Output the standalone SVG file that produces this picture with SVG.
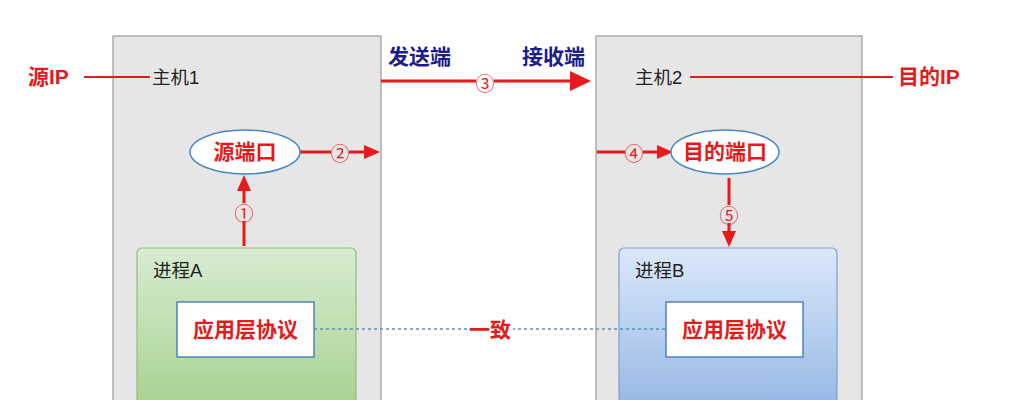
<svg xmlns="http://www.w3.org/2000/svg" width="1013" height="400" viewBox="0 0 1013 400">
<defs>
<style>
.host{fill:#e6e6e6;stroke:#999;stroke-width:1.2}
.lbl{font-family:"Liberation Sans","Noto Sans CJK SC",sans-serif;font-size:18.5px;fill:#222}
.red{font-family:"Liberation Sans","Noto Sans CJK SC",sans-serif;font-size:21px;font-weight:bold;fill:#e8191a}
.navy{font-family:"Liberation Sans","Noto Sans CJK SC",sans-serif;font-size:21px;font-weight:bold;fill:#1c1c8a}
.num{font-family:"Noto Sans CJK SC",sans-serif;font-size:19px;fill:#e8191a;text-anchor:middle;dominant-baseline:central}
.ln{stroke:#e8191a;stroke-width:3;fill:none}
.thin{stroke:#e8191a;stroke-width:2;fill:none}
.proto{fill:#fff;stroke:#3b73b9;stroke-width:1.3}
.ell{fill:#fff;stroke:#4a86c5;stroke-width:1.5}
</style>
<linearGradient id="gA" x1="0" y1="0" x2="0" y2="1"><stop offset="0" stop-color="#d8ecd2"/><stop offset="1" stop-color="#a4d08c"/></linearGradient>
<linearGradient id="gB" x1="0" y1="0" x2="0" y2="1"><stop offset="0" stop-color="#dbe8fb"/><stop offset="1" stop-color="#92b5e3"/></linearGradient>
</defs>
<rect width="1013" height="400" fill="#fff"/>

<g id="host1">
<rect class="host" x="113" y="36" width="268" height="380"/>
<text class="lbl" x="152" y="84">主机1</text>
</g>
<g id="host2">
<rect class="host" x="596" y="36" width="266" height="380"/>
<text class="lbl" x="635" y="84">主机2</text>
</g>

<g id="procA">
<rect x="137" y="248" width="219" height="170" rx="5" fill="url(#gA)" stroke="#8fbf78" stroke-width="1.2"/>
<text class="lbl" x="153" y="277">进程A</text>
</g>
<g id="procB">
<rect x="619" y="248" width="218" height="170" rx="5" fill="url(#gB)" stroke="#7ea0cf" stroke-width="1.2"/>
<text class="lbl" x="635" y="277">进程B</text>
</g>

<g id="connectors">
<line x1="314" y1="329" x2="666" y2="329" stroke="#5f8fc8" stroke-width="1.3" stroke-dasharray="3,3"/>
<rect x="467" y="317" width="46" height="24" fill="#fff"/>
<line class="thin" x1="84" y1="77" x2="150" y2="77"/>
<line class="thin" x1="690" y1="77" x2="893" y2="77"/>
<line class="ln" x1="381" y1="81" x2="572" y2="81"/>
<path d="M570,71 L591,81 L570,91 z" fill="#e8191a"/>
<circle cx="485" cy="82" r="9" fill="#fff"/>
<text class="num" x="485" y="82">③</text>
<line class="ln" x1="300" y1="152" x2="366" y2="152"/>
<path d="M364,145 L380,152 L364,159 z" fill="#e8191a"/>
<circle cx="340" cy="152" r="9" fill="#e6e6e6"/>
<text class="num" x="340" y="152">②</text>
<line class="ln" x1="597" y1="152" x2="659" y2="152"/>
<path d="M657,145 L673,152 L657,159 z" fill="#e8191a"/>
<circle cx="634" cy="152" r="9" fill="#e6e6e6"/>
<text class="num" x="634" y="152">④</text>
<line class="ln" x1="244" y1="246" x2="244" y2="188"/>
<path d="M237,191 L244,175 L251,191 z" fill="#e8191a"/>
<circle cx="244" cy="212" r="9" fill="#e6e6e6"/>
<text class="num" x="244" y="212">①</text>
<line class="ln" x1="729" y1="178" x2="729" y2="234"/>
<path d="M722,231 L729,247 L736,231 z" fill="#e8191a"/>
<circle cx="729" cy="214" r="9" fill="#e6e6e6"/>
<text class="num" x="729" y="214">⑤</text>
</g>

<g id="srcIP"><text class="red" x="28" y="84">源IP</text></g>
<g id="dstIP"><text class="red" x="898" y="84">目的IP</text></g>
<g id="sender"><text class="navy" x="388" y="64">发送端</text></g>
<g id="receiver"><text class="navy" x="522" y="64">接收端</text></g>

<g id="srcPort">
<ellipse class="ell" cx="245" cy="152" rx="55" ry="22"/>
<text class="red" x="245" y="159" text-anchor="middle">源端口</text>
</g>
<g id="dstPort">
<ellipse class="ell" cx="725" cy="152" rx="54" ry="22"/>
<text class="red" x="725" y="159" text-anchor="middle">目的端口</text>
</g>

<g id="protoA">
<rect class="proto" x="177" y="302" width="137" height="55"/>
<text class="red" x="245.5" y="337" text-anchor="middle">应用层协议</text>
</g>
<g id="protoB">
<rect class="proto" x="666" y="302" width="137" height="55"/>
<text class="red" x="734.5" y="337" text-anchor="middle">应用层协议</text>
</g>
<g id="agree"><text class="red" x="490" y="337" text-anchor="middle">一致</text></g>
</svg>
